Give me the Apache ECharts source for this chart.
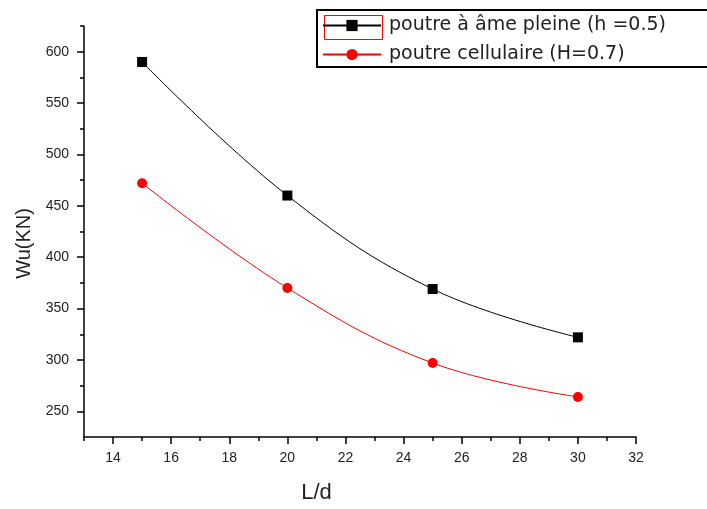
<!DOCTYPE html>
<html>
<head>
<meta charset="utf-8">
<script src="https://cdn.jsdelivr.net/npm/echarts@6/dist/echarts.min.js"></script>
<style>
	html, body { margin: 0; padding: 0; background: #fff; }
	#wuChart { width: 707px; height: 509px; }
</style>
</head>
<body>
<div id="wuChart"></div>
<script>
// données
var xValues = [15, 20, 25, 30];
var pleineValues = [590, 460, 369, 322];
var cellulaireValues = [472, 370, 297, 264];
var seriesNames = ['poutre à âme pleine (h =0.5)', 'poutre cellulaire (H=0.7)'];
// graduations
var xTickValues = [14, 16, 18, 20, 22, 24, 26, 28, 30, 32];
var xMinorValues = [13, 15, 17, 19, 21, 23, 25, 27, 29, 31];
var yTickValues = [250, 300, 350, 400, 450, 500, 550, 600];
var yMinorValues = [275, 325, 375, 425, 475, 525, 575, 625];

wuChart = {
	init: function() {
		var chart = echarts.init(document.getElementById('wuChart'));
		chart.setOption(wuChart.getOption(), false);
	},
	pairs: function(ys) {
		var out = [];
		for (var i = 0; i < xValues.length; i++) {
			out.push([xValues[i], ys[i]]);
		}
		return out;
	},
	getOption: function() {
		var font = 'Liberation Sans, Arial, sans-serif';
		var axisLine = { show: true, lineStyle: { color: '#000', width: 1.5 } };
		return {
			animation: false,
			backgroundColor: '#fff',
			grid: { left: 84, right: 71, top: 26, bottom: 70 },
			// cadre de la légende + repère rouge (sélection Origin)
			graphic: [
				{ type: 'rect', left: 316, top: 9, z: 1,
					shape: { width: 420, height: 57 },
					style: { fill: '#fff', stroke: '#000', lineWidth: 2 } },
				{ type: 'rect', left: 322, top: 13, z: 2,
					shape: { width: 58, height: 24 },
					style: { fill: 'none', stroke: '#ff0000', lineWidth: 1 } }
			],
			legend: {
				orient: 'vertical',
				left: 322,
				top: 15,
				padding: 0,
				itemWidth: 58,
				itemHeight: 14,
				itemGap: 8,
				z: 10,
				data: seriesNames,
				textStyle: { fontFamily: 'DejaVu Sans', fontSize: 19, lineHeight: 21, color: '#222', padding: [0, 0, 0, 3] }
			},
			xAxis: [
				{
					type: 'value', position: 'bottom', min: 13, max: 32,
					name: 'L/d', nameLocation: 'middle', nameGap: 45,
					nameTextStyle: { fontFamily: font, fontSize: 22, color: '#222', padding: [0, 87, 0, 0] },
					axisLine: axisLine,
					axisTick: { show: true, length: 7, customValues: xTickValues, lineStyle: { color: '#000', width: 1.5 } },
					axisLabel: { customValues: xTickValues, margin: 14, fontFamily: font, fontSize: 14, color: '#222' },
					splitLine: { show: false }
				},
				{
					type: 'value', position: 'bottom', min: 13, max: 32,
					axisLine: { show: false },
					axisTick: { show: true, length: 4, customValues: xMinorValues, lineStyle: { color: '#000', width: 1.5 } },
					axisLabel: { show: false },
					splitLine: { show: false }
				}
			],
			yAxis: [
				{
					type: 'value', position: 'left', min: 225, max: 625,
					name: 'Wu(KN)', nameLocation: 'middle', nameGap: 50,
					nameTextStyle: { fontFamily: font, fontSize: 20, color: '#222', padding: [0, 24, 0, 0] },
					axisLine: axisLine,
					axisTick: { show: true, length: 7, customValues: yTickValues, lineStyle: { color: '#000', width: 1.5 } },
					axisLabel: { customValues: yTickValues, margin: 15, fontFamily: font, fontSize: 14, color: '#222' },
					splitLine: { show: false }
				},
				{
					type: 'value', position: 'left', min: 225, max: 625,
					axisLine: { show: false },
					axisTick: { show: true, length: 4, customValues: yMinorValues, lineStyle: { color: '#000', width: 1.5 } },
					axisLabel: { show: false },
					splitLine: { show: false }
				}
			],
			series: [
				{
					name: seriesNames[0], type: 'line',
					xAxisIndex: 0, yAxisIndex: 0,
					smooth: 0.4,
					symbol: 'rect', symbolSize: 10,
					itemStyle: { color: '#000' },
					lineStyle: { color: '#000', width: 1 },
					data: wuChart.pairs(pleineValues)
				},
				{
					name: seriesNames[1], type: 'line',
					xAxisIndex: 0, yAxisIndex: 0,
					smooth: 0.4,
					symbol: 'circle', symbolSize: 10,
					itemStyle: { color: '#ff0000' },
					lineStyle: { color: '#ff0000', width: 1 },
					data: wuChart.pairs(cellulaireValues)
				}
			]
		};
	}
};

wuChart.init();
</script>
</body>
</html>
